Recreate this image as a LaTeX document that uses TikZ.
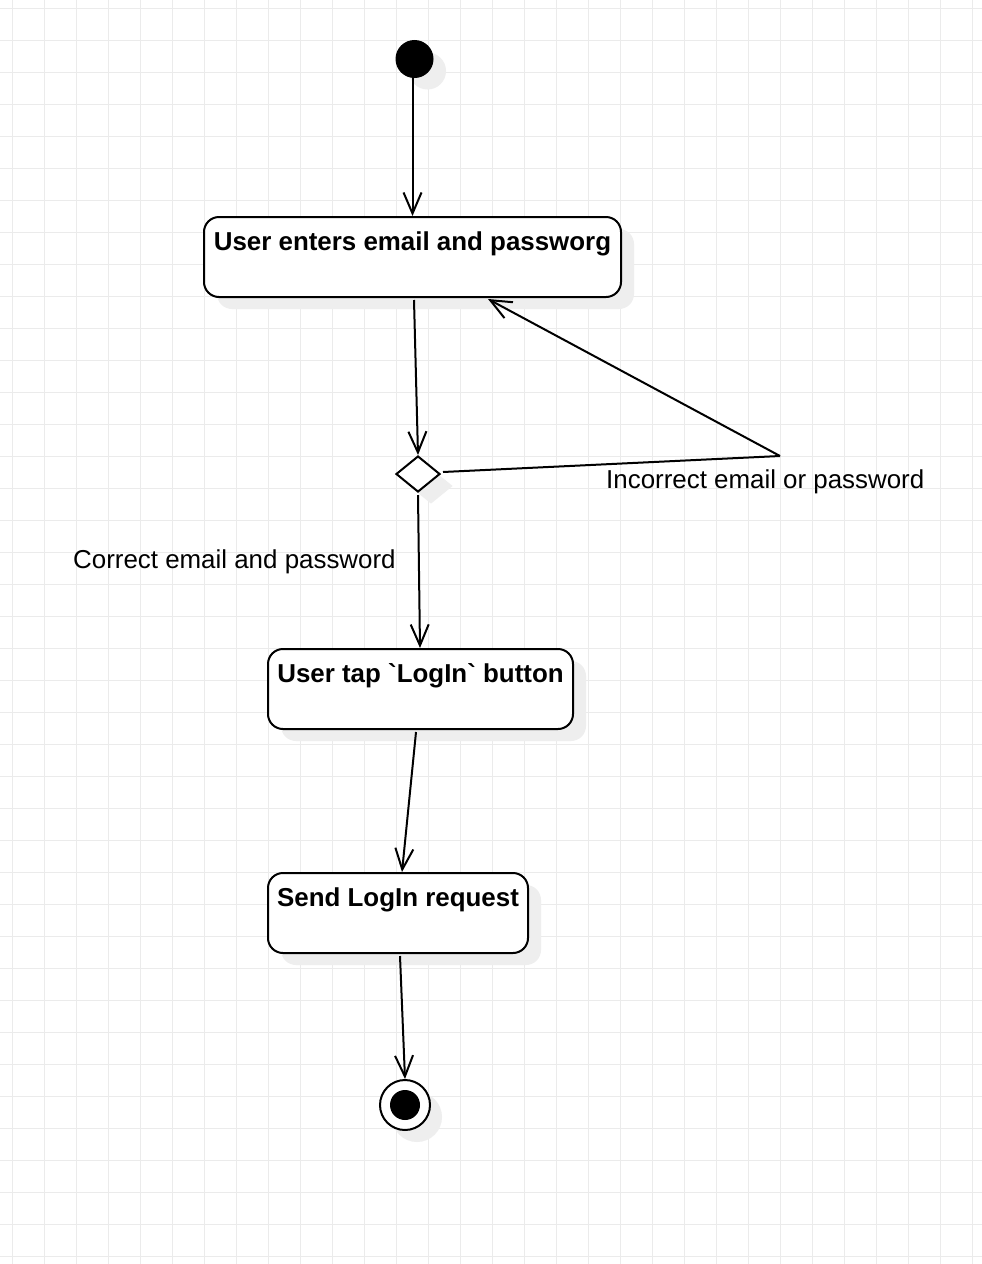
\documentclass[tikz,border=0pt]{standalone}
\usepackage{fontspec}
\setmainfont{Liberation Sans}
\usetikzlibrary{arrows.meta,shadows,shapes.geometric}
\definecolor{gridc}{HTML}{EBEBEB}
\definecolor{shadowc}{HTML}{EEEEEE}
\begin{document}
\begin{tikzpicture}[x=1pt,y=-1pt,
  every node/.style={font=\fontsize{25.9}{30}\selectfont},
  gridline/.style={draw=gridc,line width=1pt},
  shad/.style={drop shadow={shadow xshift=13pt,shadow yshift=-12pt,fill=shadowc,opacity=1}},
  statebox/.style={draw,line width=2pt,rounded corners=15pt,fill=white,shad,inner sep=0pt,
    anchor=north,minimum height=80pt,text height=33pt,text depth=47pt,
    font=\fontsize{25.9}{30}\selectfont\bfseries},
  flow/.style={draw,line width=2pt,-{Straight Barb[length=21pt,width=18pt]}},
  lbl/.style={inner sep=0pt,anchor=base west}
]
\useasboundingbox (0,0) rectangle (982,1264);
\fill[white] (0,0) rectangle (982,1264);
\foreach \x in {12,44,...,972} \draw[gridline] (\x,0) -- (\x,1264);
\foreach \y in {8,40,...,1256} \draw[gridline] (0,\y) -- (982,\y);

\node[circle,fill=black,draw=black,line width=1pt,minimum size=37pt,inner sep=0pt,shad] (start) at (414.5,59) {};
\node[statebox,minimum width=417pt] (box1) at (412.5,216) {User enters email and passworg};
\node[diamond,draw,line width=2pt,fill=white,minimum width=44pt,minimum height=36pt,inner sep=0pt,shad] (dia) at (418,474) {};
\node[statebox,minimum width=305pt] (box2) at (420.5,648) {User tap \textasciigrave LogIn\textasciigrave{} button};
\node[statebox,minimum width=260pt] (box3) at (398,872) {Send LogIn request};
\node[circle,draw,line width=2pt,fill=white,minimum size=50pt,inner sep=0pt,
  drop shadow={shadow xshift=12pt,shadow yshift=-12pt,fill=shadowc,opacity=1},
  path picture={\fill[black] (path picture bounding box.center) circle (15pt);}] (end) at (405,1105) {};

\coordinate (bend) at (780,456);
\coordinate (x488) at (488,0);

\draw[flow] (start.south -| box1.north) -- (box1.north);
\draw[flow] ([xshift=1.5pt,yshift=-2pt]box1.south) -- (dia.north);
\draw[line width=2pt] ([xshift=2pt,yshift=2pt]dia.east) -- (bend);
\draw[flow] (bend) -- ([yshift=-1pt]box1.south -| x488);
\draw[flow] ([yshift=-2pt]dia.south) -- ([xshift=-0.5pt]box2.north);
\draw[flow] ([xshift=-4.5pt,yshift=-2pt]box2.south) -- ([xshift=4pt]box3.north);
\draw[flow] ([xshift=2pt,yshift=-2pt]box3.south) -- (end.north);

\node[lbl] (lcorrect) at (73,568) {Correct email and password};
\node[lbl] (lincorrect) at (606,488) {Incorrect email or password};
\end{tikzpicture}
\end{document}
